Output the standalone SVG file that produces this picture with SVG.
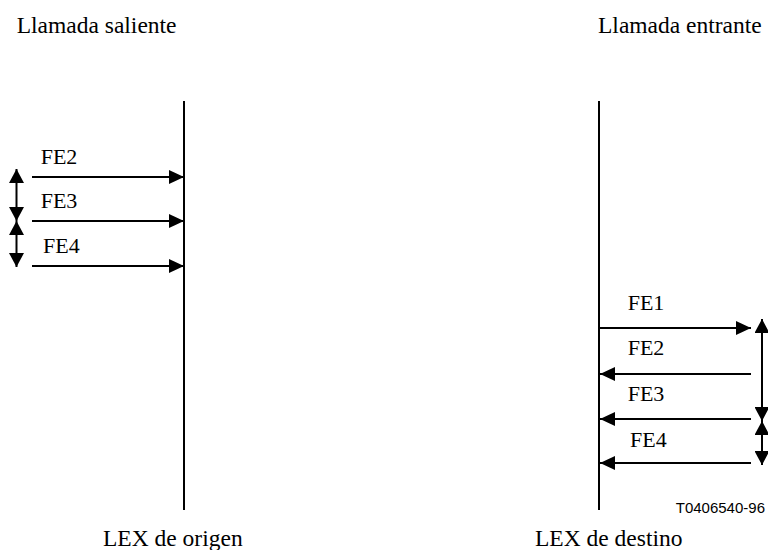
<svg xmlns="http://www.w3.org/2000/svg" width="768" height="550" viewBox="0 0 768 550">
<style>
.t{font-family:"Liberation Serif","Times New Roman",serif;font-size:23.5px;fill:#000}
.fe{font-family:"Liberation Serif","Times New Roman",serif;font-size:22px;fill:#000}
.code{font-family:"Liberation Sans",Arial,sans-serif;font-size:15px;fill:#000}
.life{stroke:#000;stroke-width:2;fill:none}
.msg{stroke:#000;stroke-width:2;fill:none;marker-end:url(#ah)}
.span{stroke:#000;stroke-width:2;fill:none;marker-start:url(#ah2);marker-end:url(#ah2)}
</style>
<defs>
<marker id="ah" markerUnits="userSpaceOnUse" markerWidth="15" markerHeight="14" refX="15" refY="7" orient="auto"><path d="M0,0 L15,7 L0,14 z" fill="#000"/></marker>
<marker id="ah2" markerUnits="userSpaceOnUse" markerWidth="15" markerHeight="15" refX="14" refY="7.5" orient="auto-start-reverse"><path d="M0,0 L14,7.5 L0,15 z" fill="#000"/></marker>
</defs>
<rect width="768" height="550" fill="#fff"/>
<g id="titles">
<text class="t" x="16.7" y="33">Llamada saliente</text>
<text class="t" x="598" y="33">Llamada entrante</text>
</g>
<g id="lex-origen">
<line class="life" x1="184" y1="101" x2="184" y2="510"/>
<text class="t" x="103" y="546">LEX de origen</text>
</g>
<g id="lex-destino">
<line class="life" x1="599" y1="101" x2="599" y2="510"/>
<text class="t" x="535" y="546">LEX de destino</text>
</g>
<g id="connectors">
<line class="msg" x1="32" y1="177" x2="184" y2="177"/>
<line class="msg" x1="32" y1="221" x2="184" y2="221"/>
<line class="msg" x1="32" y1="266" x2="184" y2="266"/>
<line class="span" x1="16.5" y1="169" x2="16.5" y2="221"/>
<line class="span" x1="16.5" y1="221" x2="16.5" y2="267"/>
<line class="msg" x1="599" y1="328" x2="751" y2="328"/>
<line class="msg" x1="751" y1="374" x2="600" y2="374"/>
<line class="msg" x1="751" y1="419" x2="600" y2="419"/>
<line class="msg" x1="751" y1="463" x2="600" y2="463"/>
<line class="span" x1="762" y1="319" x2="762" y2="421"/>
<line class="span" x1="762" y1="421" x2="762" y2="465"/>
</g>
<g id="labels">
<text class="fe" x="40.7" y="164">FE2</text>
<text class="fe" x="40.7" y="208">FE3</text>
<text class="fe" x="43" y="253">FE4</text>
<text class="fe" x="627.7" y="310">FE1</text>
<text class="fe" x="627.7" y="354.5">FE2</text>
<text class="fe" x="627.7" y="400.7">FE3</text>
<text class="fe" x="630" y="447">FE4</text>
</g>
<g id="figure-code">
<text class="code" x="765" y="512.5" text-anchor="end">T0406540-96</text>
</g>
</svg>
